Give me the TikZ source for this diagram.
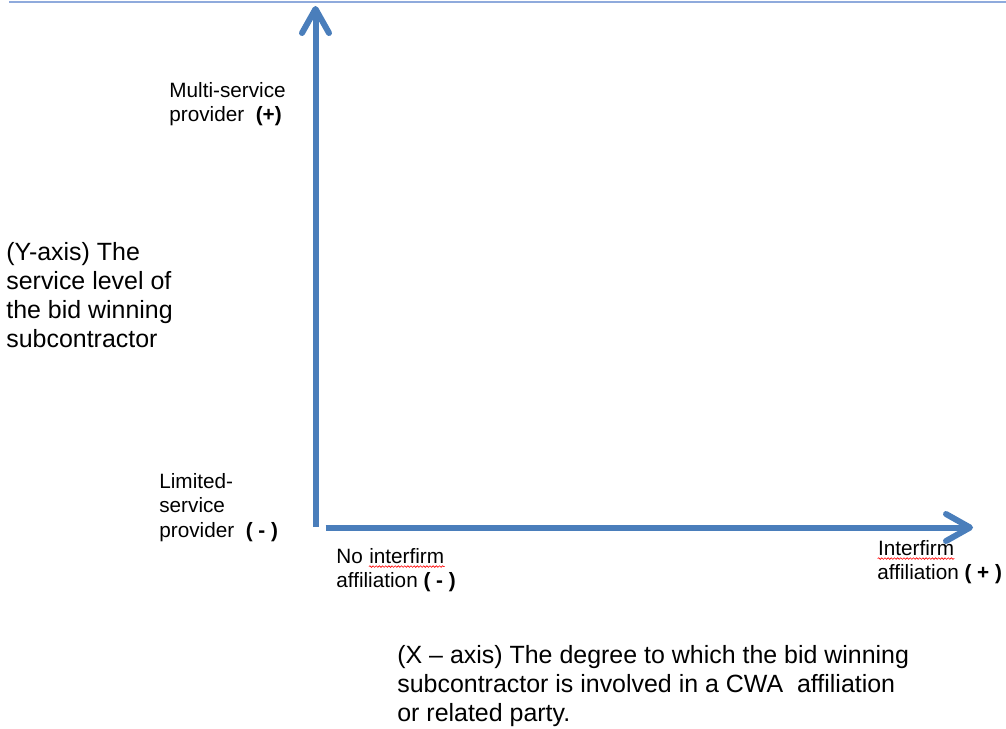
\documentclass[tikz,border=0pt]{standalone}
\usepackage{fontspec}
\setmainfont{Liberation Sans}
\usepackage{tikz}
\usetikzlibrary{arrows.meta, decorations.pathmorphing}

\definecolor{axisblue}{RGB}{74,126,187}
\definecolor{frameblue}{RGB}{143,170,220}

\tikzset{
  axis/.style={draw=axisblue, line width=0.12cm,
    -{Straight Barb[length=0.48cm, width=0.54cm, round]}},
  biglabel/.style={inner sep=0pt, anchor=north west, align=left,
    font=\fontsize{14.2pt}{16.6pt}\selectfont},
  smalllabel/.style={inner sep=0pt, anchor=north west, align=left,
    font=\fontsize{11.8pt}{14pt}\selectfont},
  squiggle/.style={red, line width=0.35pt, decorate,
    decoration={snake, amplitude=0.45pt, segment length=1.8pt}}
}

% word with a red wavy underline
\newcommand{\misspelt}[1]{\tikz[baseline=(word.base)]{%
  \node[inner sep=0pt, anchor=base] (word) {#1};
  \draw[squiggle] ([yshift=-1.8pt]word.base west) -- ([yshift=-1.8pt]word.base east);}}

\begin{document}
\begin{tikzpicture}[x=0.02cm, y=-0.02cm]
  \useasboundingbox (0,0) rectangle (1006,728);

  % top rule
  \coordinate (ruleL) at (9,1.5);
  \coordinate (ruleR) at (1006,1.5);
  \draw[frameblue, line width=0.04cm] (ruleL) -- (ruleR);

  % axes
  \coordinate (ybot) at (315.5,527);
  \coordinate (ytip) at (315.5,6);
  \coordinate (xleft) at (325.5,527.5);
  \coordinate (xtip) at (973,527.5);
  \draw[axis] (ybot) -- (ytip);
  \draw[axis] (xleft) -- (xtip);

  % y labels
  \node[biglabel] (ylabel) at (6,242) {(Y-axis) The\\service level of\\the bid winning\\subcontractor};
  \node[smalllabel] (ypos) at (169,82) {Multi-service\\provider\ \ \textbf{(+)}};
  \node[smalllabel] (yneg) at (159,473) {Limited-\\service\\provider\ \ \textbf{( - )}};

  % x labels
  \node[smalllabel] (xneg) at (336,548) {No \misspelt{interfirm}\\affiliation \textbf{( - )}};
  \node[smalllabel] (xpos) at (877,540) {\misspelt{Interfirm}\\affiliation \textbf{( + )}};
  \node[biglabel] (xlabel) at (397,645) {(X – axis) The degree to which the bid winning\\subcontractor is involved in a CWA\ \ affiliation\\or related party.};
\end{tikzpicture}
\end{document}
